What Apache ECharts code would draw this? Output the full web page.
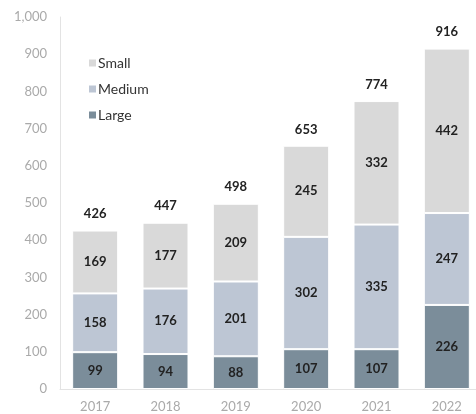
<!DOCTYPE html>
<html>
<head>
<meta charset="utf-8">
<script src="https://cdn.jsdelivr.net/npm/echarts@6/dist/echarts.min.js"></script>
<style>
html,body{margin:0;padding:0;background:#fff;}
#chart{width:476px;height:414px;}
</style>
</head>
<body>
<div id="chart"></div>
<script>
const years = ['2017','2018','2019','2020','2021','2022'];
const large = [99, 94, 88, 107, 107, 226];
const medium = [158, 176, 201, 302, 335, 247];
const small = [169, 177, 209, 245, 332, 442];
const totals = [426, 447, 498, 653, 774, 916];
const yTicks = [0, 100, 200, 300, 400, 500, 600, 700, 800, 900, 1000];

const font = 'Lato';
const chart = echarts.init(document.getElementById('chart'));
const segLabel = {show: true, position: 'inside', color: '#222', fontFamily: font, fontWeight: 'bold', fontSize: 13};
chart.setOption({
  animation: false,
  textStyle: {fontFamily: font},
  legend: {
    data: ['Small', 'Medium', 'Large'],
    orient: 'vertical',
    left: 82, top: 51,
    itemWidth: 9, itemHeight: 9, itemGap: 12,
    icon: 'rect',
    textStyle: {color: '#333', fontSize: 14, fontFamily: font, padding: [0,0,0,-4]}
  },
  grid: {left: 60, top: 17, width: 422, bottom: 25, containLabel: false, outerBoundsMode: 'none'},
  xAxis: {
    type: 'category', data: years,
    axisLine: {lineStyle: {color: '#e3e3e3'}},
    axisTick: {show: false},
    axisLabel: {color: '#aaa', fontSize: 13, fontFamily: font, margin: 11}
  },
  yAxis: {
    type: 'value', min: 0, max: 1000, interval: 100,
    axisLine: {show: true, lineStyle: {color: '#e3e3e3'}},
    splitLine: {show: false},
    axisLabel: {color: '#aaa', fontSize: 13, fontFamily: font, margin: 13,
      formatter: v => v.toLocaleString('en-US')}
  },
  series: [
    {name: 'Large', type: 'bar', stack: 's', data: large, barWidth: 46,
     itemStyle: {color: '#7b8d9a', borderColor: '#fff', borderWidth: 1}, label: segLabel},
    {name: 'Medium', type: 'bar', stack: 's', data: medium, barWidth: 46,
     itemStyle: {color: '#bdc6d4', borderColor: '#fff', borderWidth: 1}, label: segLabel},
    {name: 'Small', type: 'bar', stack: 's', data: small, barWidth: 46,
     itemStyle: {color: '#d9d9d9', borderColor: '#fff', borderWidth: 1}, label: segLabel},
    {name: 'Total', type: 'bar', data: totals, barWidth: 46, barGap: '-100%', z: 1,
     itemStyle: {color: 'rgba(0,0,0,0)'},
     label: {show: true, position: 'top', distance: 10, color: '#222', fontFamily: font, fontWeight: 'bold', fontSize: 13}}
  ]
});
</script>
</body>
</html>
